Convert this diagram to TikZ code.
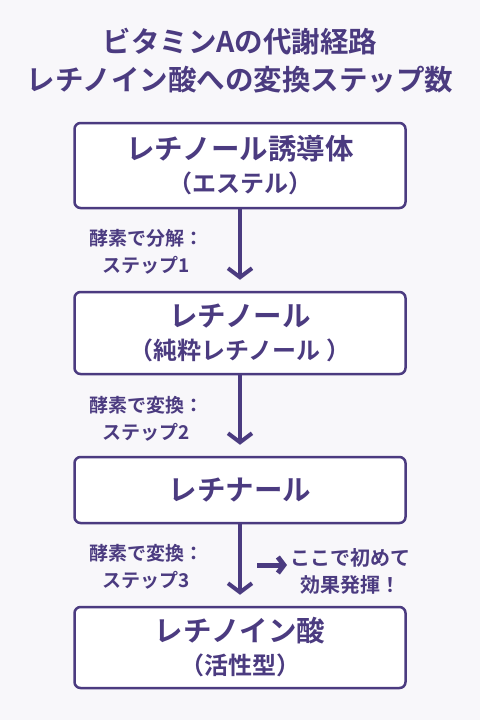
\documentclass[tikz,border=0pt]{standalone}
\usepackage{fontspec}
\setmainfont{Noto Sans CJK JP}[BoldFont={Noto Sans CJK JP Bold}]
\usetikzlibrary{arrows.meta}
\definecolor{vioDark}{HTML}{4B3B80}
\definecolor{paper}{HTML}{F8F7FA}
\tikzset{
	stagebox/.style={draw=vioDark, line width=2.5pt, rounded corners=6pt, fill=white,
		minimum width=331pt, align=center, text=vioDark, font=\bfseries\fontsize{28.5}{33}\selectfont},
	flowarrow/.style={draw=vioDark, line width=4pt, -{Straight Barb[length=9pt,width=24pt,line width=4pt]}, shorten >=11pt},
	steplabel/.style={align=center, text=vioDark, font=\bfseries\fontsize{19}{27}\selectfont},
}
\newcommand{\subline}[1]{{\fontsize{24}{31}\selectfont #1}}

\begin{document}
\begin{tikzpicture}[x=1pt, y=-1pt]
		\fill [paper] (0,0) rectangle (480,720);
		\useasboundingbox (0,0) rectangle (480,720);

		% Title
		\node [text=vioDark, align=center, font=\bfseries\fontsize{28.5}{38}\selectfont] (title) at (240, 61)
			{ビタミンAの代謝経路\\レチノイン酸への変換ステップ数};

		% Stages
		\node [stagebox, minimum height=85pt] (ester) at (240, 165.5) {レチノール誘導体\\\subline{（エステル）}};
		\node [stagebox, minimum height=82pt] (retinol) at (240, 333) {レチノール\\\subline{（純粋レチノール ）}};
		\node [stagebox, minimum height=66pt] (retinal) at (240, 490) {レチナール};
		\node [stagebox, minimum height=81pt] (acid) at (240, 647.5) {レチノイン酸\\\subline{（活性型）}};

		\draw [flowarrow] (ester) -- (retinol);
		\draw [flowarrow] (retinol) -- (retinal);
		\draw [flowarrow] (retinal) -- (acid);

		% Step labels
		\node [steplabel] (step1) at (146, 252) {酵素で分解：\\ステップ1};
		\node [steplabel] (step2) at (146, 419) {酵素で変換：\\ステップ2};
		\node [steplabel] (step3) at (146, 567) {酵素で変換：\\ステップ3};

		% Note
		\node [steplabel, anchor=west, font=\bfseries\fontsize{20}{27}\selectfont] (note) at (287, 571) {ここで初めて\\効果発揮！};
		\coordinate (noteStart) at (257, 565);
		\draw [draw=vioDark, line width=5pt, -{Straight Barb[length=6pt,width=16pt,line width=5pt]}] (noteStart) -- (noteStart -| note.west);
	\end{tikzpicture}
\end{document}
